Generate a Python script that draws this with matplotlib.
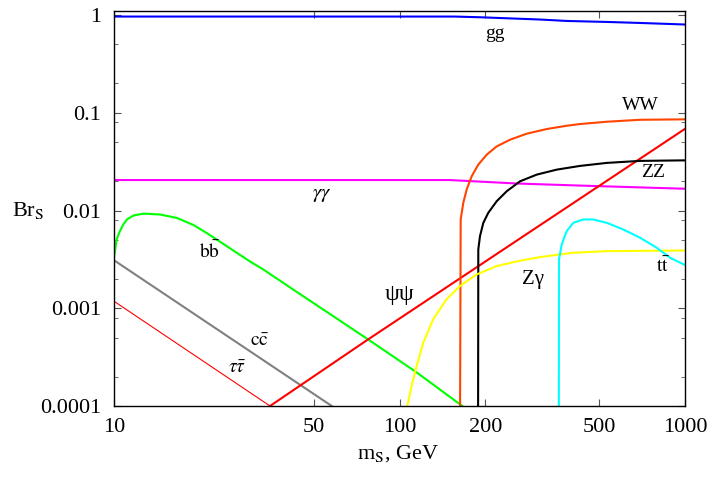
import matplotlib
matplotlib.use("Agg")
import matplotlib.pyplot as plt
from matplotlib.ticker import FixedLocator, NullFormatter, NullLocator

plt.rcParams["font.family"] = ["Liberation Serif", "DejaVu Serif"]
plt.rcParams["mathtext.fontset"] = "stix"

# branching ratios (m_S in GeV)
m_gg = [10, 155, 190, 310, 386, 532, 696, 1000]
br_gg = [0.965, 0.965, 0.95, 0.90, 0.87, 0.85, 0.83, 0.80]

m_aa = [10, 150, 177, 257, 429, 1000]
br_aa = [0.0205, 0.0205, 0.0200, 0.0189, 0.0180, 0.0167]

m_bb = [10, 10.22, 10.5, 10.78, 11.1, 11.7, 12.7, 14.5, 16.6, 19.0, 21.1, 23.5,
        26.9, 30.0, 33.3, 41.4, 76.8, 115, 166]
br_bb = [0.0033, 0.0051, 0.0062, 0.0072, 0.0081, 0.0089, 0.0093, 0.0091, 0.0084,
         0.0071, 0.0059, 0.0048, 0.0037, 0.0030, 0.0025, 0.00163, 0.00049,
         0.00022, 0.0001]

m_cc = [10, 57.9]
br_cc = [0.0031, 0.0001]

m_tautau = [10, 35.2]
br_tautau = [0.00118, 0.0001]

m_psi = [35.2, 76.8, 1000]
br_psi = [0.0001, 0.00047, 0.0685]

m_ww = [163.0, 163.8, 167.3, 171.9, 179.0, 188.8, 202.1, 219.0, 243.8, 279.0,
        327.8, 385.1, 428.8, 532, 695.8, 1000]
br_ww = [0.0001, 0.0081, 0.0120, 0.0164, 0.0224, 0.0295, 0.0373, 0.0453, 0.053,
         0.0611, 0.0682, 0.0737, 0.0767, 0.081, 0.0848, 0.0857]

m_zz = [188.5, 188.8, 191.4, 196.6, 204.6, 219.0, 237.4, 264.3, 302.5, 355.3,
        428.8, 531.8, 695.8, 1000]
br_zz = [0.0001, 0.0040, 0.00547, 0.00748, 0.00947, 0.01245, 0.01574, 0.0199,
         0.0233, 0.0262, 0.0286, 0.0307, 0.0322, 0.0326]

m_za = [106.5, 110.3, 114.9, 121.2, 131.3, 146.3, 162.9, 186.4, 219.0, 260.7,
        310.5, 406.3, 531.8, 1000]
br_za = [0.0001, 0.000161, 0.000258, 0.000447, 0.000773, 0.00124, 0.00169,
         0.00222, 0.0027, 0.00304, 0.00334, 0.0037, 0.00384, 0.0039]

m_tt = [361.5, 362.0, 370.0, 385.1, 406.3, 440.4, 477.2, 531.8, 607.9, 695.8,
        796, 886.4, 1000]
br_tt = [0.0001, 0.00316, 0.0045, 0.00615, 0.00749, 0.0081, 0.0081, 0.00749,
         0.0064, 0.00527, 0.00416, 0.00329, 0.00277]

fig = plt.figure(figsize=(7.12, 4.79), dpi=100)
ax = fig.add_axes([114 / 712, 73 / 479, 571 / 712, 395 / 479])

ax.plot(m_gg, br_gg, color="#0000ff", lw=1.5)
ax.plot(m_aa, br_aa, color="#ff00ff", lw=1.5)
ax.plot(m_bb, br_bb, color="#00ff00", lw=1.5)
ax.plot(m_cc, br_cc, color="#808080", lw=1.5)
ax.plot(m_tautau, br_tautau, color="#ff0000", lw=0.8)
ax.plot(m_psi, br_psi, color="#ff0000", lw=1.5)
ax.plot(m_ww, br_ww, color="#ff4500", lw=1.5)
ax.plot(m_zz, br_zz, color="#000000", lw=1.5)
ax.plot(m_za, br_za, color="#ffff00", lw=1.5)
ax.plot(m_tt, br_tt, color="#00ffff", lw=1.5)

ax.set_xscale("log")
ax.set_yscale("log")
ax.set_xlim(10, 1000)
ax.set_ylim(1e-4, 1.1)

ax.xaxis.set_major_locator(FixedLocator([10, 50, 100, 200, 500, 1000]))
ax.xaxis.set_minor_locator(NullLocator())
ax.set_xticklabels(["10", "50", "100", "200", "500", "1000"])

ax.yaxis.set_major_locator(FixedLocator([1e-4, 1e-3, 1e-2, 0.1, 1]))
ax.set_yticklabels(["0.0001", "0.001", "0.01", "0.1", "1"])
minors = []
for k in [-4, -3, -2, -1]:
    for f in [2, 5]:
        minors.append(f * 10.0 ** k)
for k in [-4, -3, -2]:
    minors.append(8 * 10.0 ** k)
ax.yaxis.set_minor_locator(FixedLocator(minors))
ax.yaxis.set_minor_formatter(NullFormatter())

ax.tick_params(which="both", direction="in", top=True, right=True,
               color="#555555", labelsize=16)
ax.tick_params(which="major", length=5, pad=9)
ax.tick_params(which="minor", length=3)
for sp in ax.spines.values():
    sp.set_linewidth(1.0)

ax.set_xlabel(r"m$_\mathrm{S}$, GeV", fontsize=16)
ax.xaxis.set_label_coords(0.497, -0.095)
ax.set_ylabel(r"Br$_\mathrm{S}$", fontsize=16, rotation=0, va="center", ha="center")
ax.yaxis.set_label_coords(-0.151, 0.494)

# curve labels
labels = [
    ("gg", 216, 0.655, 14),
    (r"$\gamma\gamma$", 53.4, 0.0146, 15),
    ("WW", 696, 0.118, 14),
    ("ZZ", 773, 0.0244, 14),
    (r"$\mathrm{b\bar{b}}$", 21.7, 0.0038, 14),
    (r"$\mathrm{c\bar{c}}$", 32.2, 0.00046, 14),
    (r"$\tau\bar{\tau}$", 27.0, 0.00024, 14),
    ("ψψ", 100.4, 0.00139, 17),
    ("Zγ", 293.6, 0.00198, 15),
    (r"$\mathrm{t\bar{t}}$", 837, 0.0027, 14),
]
for txt, x, y, fs in labels:
    ax.text(x, y, txt, fontsize=fs, ha="center", va="center")

fig.savefig("out.png", dpi=100)
